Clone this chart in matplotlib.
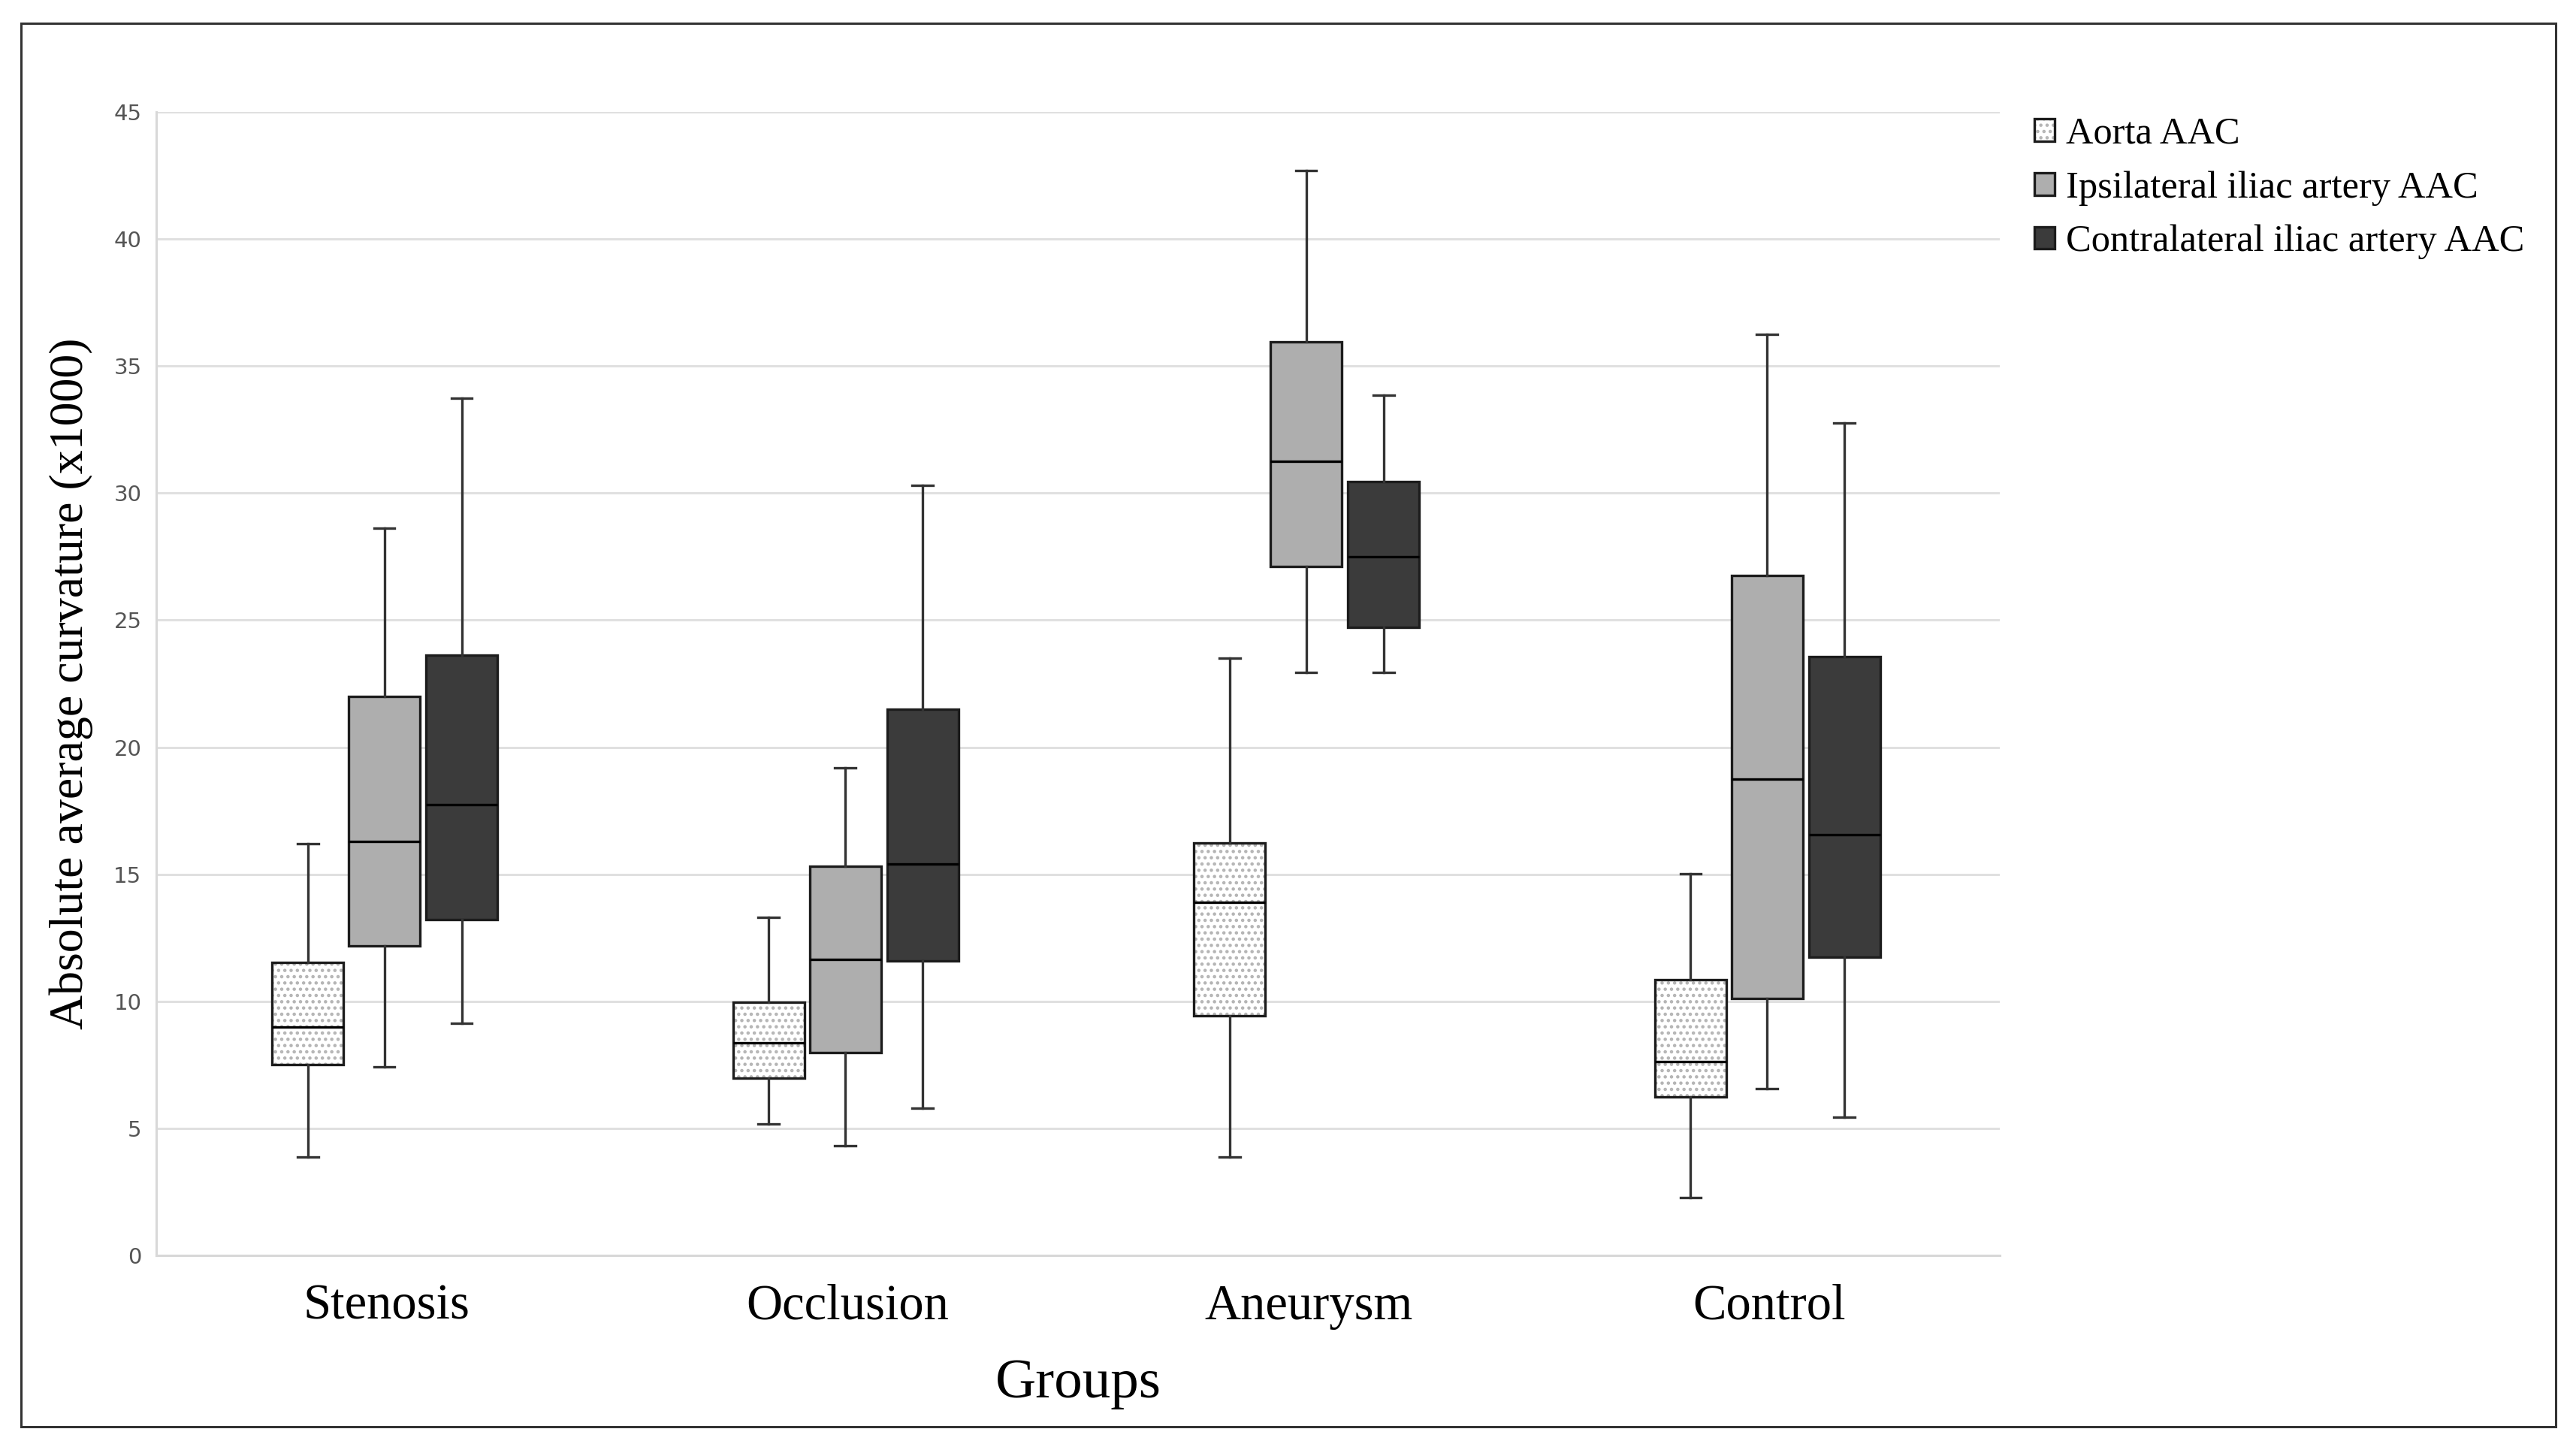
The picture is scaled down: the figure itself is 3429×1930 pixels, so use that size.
import matplotlib
matplotlib.use("Agg")
import matplotlib.pyplot as plt
from matplotlib.patches import PathPatch, Patch, Rectangle

# groups and series
groups = ['Stenosis', 'Occlusion', 'Aneurysm', 'Control']
series = ['Aorta AAC', 'Ipsilateral iliac artery AAC', 'Contralateral iliac artery AAC']

# five-number summaries (per group)
aorta_whislo = [3.89, 5.19, 3.88, 2.29]
aorta_q1 = [7.53, 7.00, 9.44, 6.25]
aorta_med = [9.00, 8.36, 13.90, 7.64]
aorta_q3 = [11.55, 9.96, 16.23, 10.87]
aorta_whishi = [16.22, 13.31, 23.49, 15.02]

ipsi_whislo = [7.42, 4.32, 22.93, 6.58]
ipsi_q1 = [12.19, 8.00, 27.10, 10.12]
ipsi_med = [16.30, 11.66, 31.24, 18.76]
ipsi_q3 = [22.01, 15.31, 35.94, 26.75]
ipsi_whishi = [28.63, 19.18, 42.68, 36.25]

contra_whislo = [9.13, 5.79, 22.93, 5.45]
contra_q1 = [13.21, 11.60, 24.73, 11.74]
contra_med = [17.73, 15.41, 27.50, 16.55]
contra_q3 = [23.61, 21.50, 30.46, 23.57]
contra_whishi = [33.72, 30.30, 33.86, 32.74]

yticks = [0, 5, 10, 15, 20, 25, 30, 35, 40, 45]

fills = ['white', '#aeaeae', '#3b3b3b']
offsets = [-0.171, -0.005, 0.163]
box_w = 0.155
edge = '#1c1c1c'
dots = '#b4b4b4'
serif = ['Liberation Serif', 'DejaVu Serif']


def make_stats(whislo, q1, med, q3, whishi):
    stats = []
    for i in range(len(med)):
        stats.append({'whislo': whislo[i], 'q1': q1[i], 'med': med[i],
                      'q3': q3[i], 'whishi': whishi[i], 'fliers': []})
    return stats


all_stats = [
    make_stats(aorta_whislo, aorta_q1, aorta_med, aorta_q3, aorta_whishi),
    make_stats(ipsi_whislo, ipsi_q1, ipsi_med, ipsi_q3, ipsi_whishi),
    make_stats(contra_whislo, contra_q1, contra_med, contra_q3, contra_whishi),
]

fig = plt.figure(figsize=(17.15, 9.65), dpi=200)
ax = fig.add_axes([0.0606, 0.134, 0.7155, 0.789])

for k, stats in enumerate(all_stats):
    pos = [i + offsets[k] for i in range(len(groups))]
    bp = ax.bxp(stats, positions=pos, widths=box_w, patch_artist=True,
                showfliers=False, manage_ticks=False, capwidths=0.045,
                boxprops=dict(facecolor=fills[k] if k else 'none', edgecolor=edge, linewidth=1.2),
                medianprops=dict(color='black', linewidth=1.2),
                whiskerprops=dict(color='#333333', linewidth=1.2),
                capprops=dict(color='#333333', linewidth=1.2),
                zorder=3)
    if k == 0:
        # dotted fill under the aorta boxes
        for b in bp['boxes']:
            ax.add_patch(PathPatch(b.get_path(), facecolor='white', edgecolor=dots,
                                   hatch='....', linewidth=0, zorder=2.5))

ax.set_xlim(-0.5, len(groups) - 0.5)
ax.set_ylim(0, 45)
ax.set_yticks(yticks)
ax.set_xticks(range(len(groups)))
ax.set_xticklabels(groups, fontsize=24, family=serif)
ax.tick_params(axis='x', length=0, pad=13.5)
ax.tick_params(axis='y', length=0, pad=7, labelsize=10.5, labelcolor='#555555')

ax.yaxis.grid(True, color='#e0e0e0', linewidth=1.1)
ax.set_axisbelow(True)
for s in ['top', 'right']:
    ax.spines[s].set_visible(False)
for s in ['left', 'bottom']:
    ax.spines[s].set_color('#d8d8d8')
    ax.spines[s].set_linewidth(1.1)

ax.set_xlabel('Groups', fontsize=27, family=serif, labelpad=14)
ax.set_ylabel('Absolute average curvature (x1000)', fontsize=23, family=serif)
ax.yaxis.set_label_coords(-0.034, 0.5)

# legend handles
h0 = (Patch(facecolor='white', edgecolor=dots, hatch='....', linewidth=0),
      Patch(facecolor='none', edgecolor=edge, linewidth=1.2))
h1 = Patch(facecolor=fills[1], edgecolor=edge, linewidth=1.2)
h2 = Patch(facecolor=fills[2], edgecolor=edge, linewidth=1.2)
fig.legend([h0, h1, h2], series, loc='upper left', bbox_to_anchor=(0.7895, 0.9195),
           frameon=False, borderpad=0, borderaxespad=0, handlelength=0.53,
           handleheight=0.53, handletextpad=0.3, labelspacing=0.5,
           prop={'family': serif, 'size': 18.2})

# outer frame
fig.add_artist(Rectangle((0.0082, 0.016), 0.9836, 0.968, transform=fig.transFigure,
                         fill=False, edgecolor='#333333', linewidth=1.1))

fig.savefig('out.png', dpi=200)
